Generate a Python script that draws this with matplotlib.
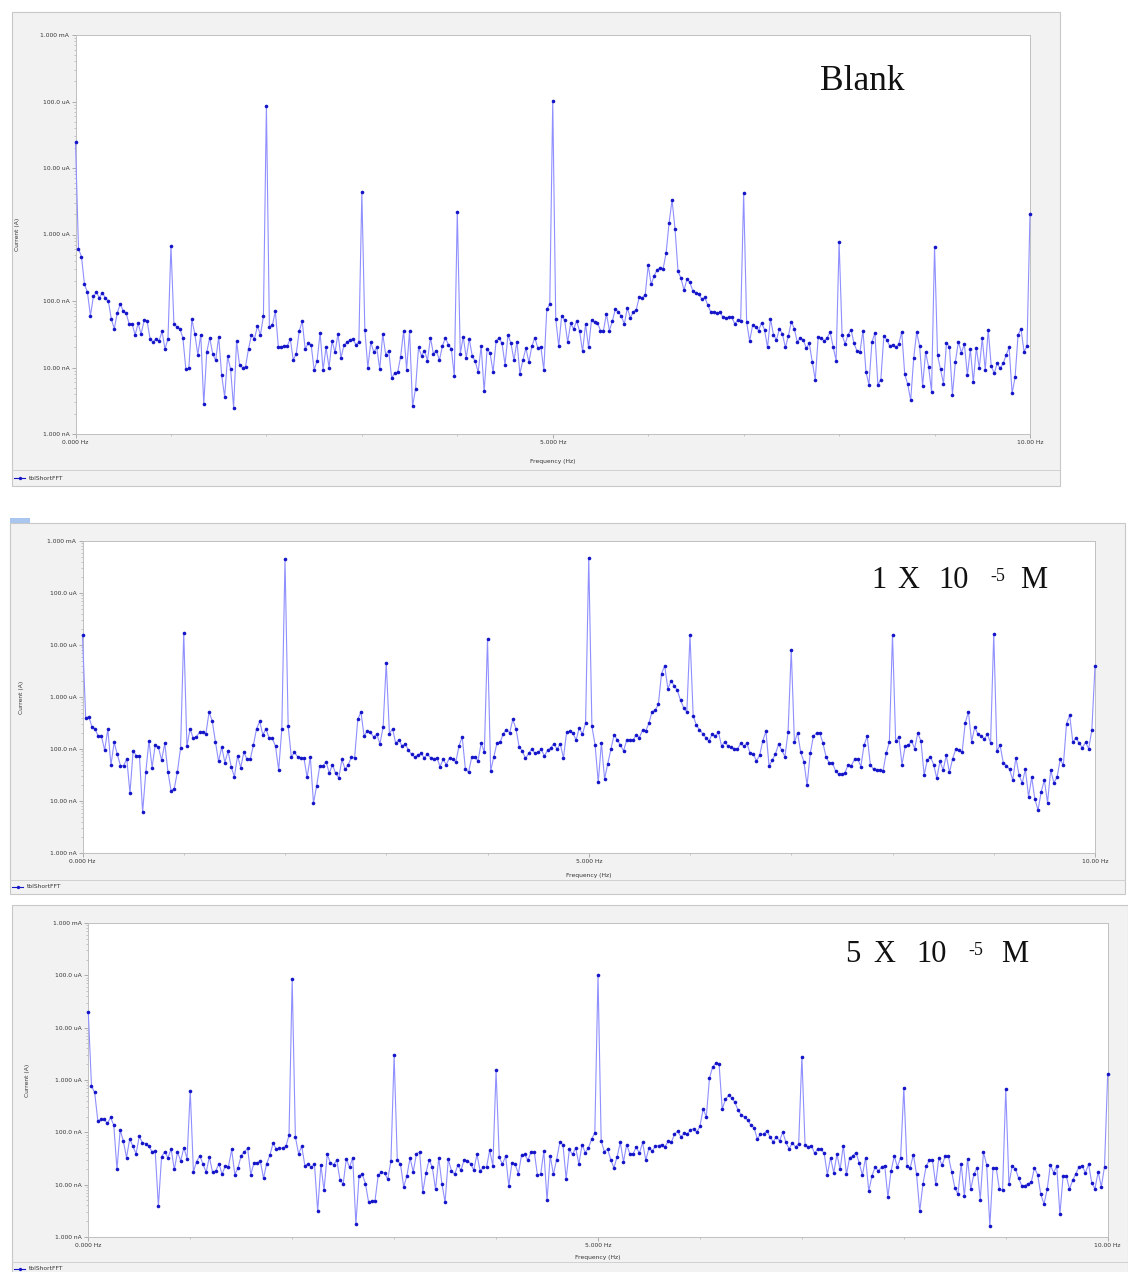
import numpy as np
import matplotlib
matplotlib.use("Agg")
import matplotlib.pyplot as plt
from matplotlib.patches import Rectangle
from matplotlib.lines import Line2D
from matplotlib.ticker import FixedLocator, LogLocator, NullFormatter

# ---------------- data (current in nA, FFT bins 0..10 Hz, 32 bins per Hz) ----------------
blank_nA = [
    24500, 610, 465, 180, 135, 60, 117, 135, 111, 133, 111, 100, 54, 38, 66, 90, 71, 65, 45, 45, 31, 46, 32, 51, 50, 27, 24, 27, 25, 35, 19, 27,
    670, 45, 41, 38, 28, 9.4, 9.7, 53, 32, 15.6, 31, 2.8, 17, 28, 16, 12.8, 29, 7.7, 3.6, 14.7, 9.4, 2.5, 25, 10.8, 10, 10.3, 19, 31, 27, 42, 31, 59,
    87000, 41, 43, 70, 20.6, 20.6, 21, 21, 27, 13, 16, 35, 50, 19, 23, 22, 9.2, 12.7, 33, 9.2, 20, 10, 25, 17, 32, 14, 21.5, 24, 26, 27, 22, 24,
    4300, 37, 10, 24, 17, 20, 9.4, 32, 15.6, 18, 6.9, 8.3, 8.5, 14.5, 36, 9.3, 35, 2.6, 4.8, 20, 15, 18, 12.7, 28, 16, 18, 12.8, 21, 28, 22, 19, 7.4,
    2200, 16, 29, 14, 27, 15, 12.4, 8.5, 21, 4.4, 19, 16.5, 8.5, 25, 28, 23, 11, 31, 23, 12.8, 24.5, 8.1, 13, 19.5, 12, 21, 28, 19.6, 20.5, 9.2, 75, 89,
    102000, 54, 21, 60, 51, 24, 46, 38, 50, 35, 17.5, 45, 20, 52, 48, 47, 36, 36, 64, 36, 50, 76, 68, 59, 45, 79, 56, 68, 74, 115, 111, 125,
    345, 178, 240, 295, 316, 306, 525, 1500, 3300, 1200, 280, 220, 146, 213, 190, 140, 133, 127, 106, 113, 86, 68, 68, 66, 68, 58, 56, 57, 57, 45.5, 51, 50,
    4170, 48, 25, 43, 41, 36, 47, 37, 20, 54, 31, 26, 38, 32, 20, 30, 49, 38, 24, 28, 26, 19.5, 23, 12.3, 6.5, 29, 28, 25, 28, 34, 20.5, 12.7,
    780, 31, 22.5, 31, 37, 23, 17.7, 17.3, 36, 8.7, 5.5, 24, 33, 5.5, 6.6, 30, 26, 21, 22, 20, 22.5, 34.5, 7.9, 5.6, 3.2, 13.7, 34, 21, 5.3, 17, 10.3, 4.3,
    660, 15.4, 9.4, 5.7, 23.6, 20.5, 3.9, 12.3, 24.5, 16.7, 22.5, 7.7, 18.8, 6, 19.8, 9.7, 27.5, 9.2, 37, 10.5, 8.2, 11.5, 9.7, 11.5, 15.4, 20, 4.1, 7.1, 31, 38, 17.3, 21,
    2050,
]

conc1_nA = [
    15500, 400, 415, 266, 240, 174, 174, 95, 240, 49, 134, 79, 48, 48, 65, 14, 92, 74, 74, 6.1, 35.5, 144, 44, 122, 107, 61, 128, 36.5, 15.6, 17.3, 36.5, 105,
    17300, 113, 244, 160, 171, 210, 217, 195, 515, 347, 139, 58, 109, 55, 91, 46, 29, 74, 44, 87, 63, 63, 118, 244, 340, 187, 244, 160, 160, 113, 39.5, 246,
    445000, 275, 71, 86, 71, 68, 66, 28.5, 71, 9.1, 19.5, 48, 47, 57, 34, 50, 34, 28, 63, 40.5, 50, 70, 68, 370, 515, 177, 223, 208, 171, 192, 126, 262,
    4550, 198, 244, 128, 152, 113, 126, 95, 79, 70, 76, 82, 68, 79, 68, 63, 68, 46, 63, 50, 68, 63, 57, 115, 171, 42, 35.5, 69, 69, 59, 131, 86,
    13100, 38, 71, 131, 135, 198, 236, 204, 372, 244, 110, 92, 66, 82, 100, 82, 86, 98, 73, 95, 105, 126, 99, 126, 67, 210, 220, 204, 148, 258, 192, 317,
    465000, 273, 120, 23, 131, 26.5, 52, 98, 187, 152, 118, 92, 148, 148, 148, 187, 166, 230, 220, 314, 515, 555, 725, 2800, 4000, 1440, 2030, 1650, 1340, 865, 625, 510,
    15500, 440, 287, 236, 198, 166, 141, 195, 176, 210, 113, 139, 113, 107, 102, 99, 128, 113, 128, 82, 80, 59, 75, 144, 220, 47, 61, 80, 124, 95, 71, 213,
    8100, 135, 204, 86, 57, 20, 82, 176, 204, 204, 131, 71, 54, 54, 38, 32.5, 32.5, 35, 50, 48, 63, 65, 46, 118, 176, 50, 40.5, 39.5, 39.5, 38, 82, 137,
    15800, 141, 171, 50, 113, 118, 144, 102, 204, 141, 31.6, 61, 71, 50, 27.3, 58, 39.5, 75, 35.5, 65, 100, 95, 86, 322, 515, 139, 265, 192, 178, 155, 192, 131,
    16300, 92, 118, 55, 48, 40.5, 25.3, 68, 31.6, 22, 41, 12.1, 28.5, 10.8, 6.7, 15.1, 25.3, 9.3, 39.5, 22.5, 28.5, 63, 49, 307, 445, 134, 166, 128, 106, 134, 102, 230,
    3900,
]

conc5_nA = [
    19600, 765, 580, 164, 176, 176, 148, 193, 137, 19.7, 110, 68, 33, 75, 54, 39, 84, 63, 61, 54, 43, 44, 3.9, 34, 43, 32.6, 48, 19.5, 42, 28.5, 51, 31.6,
    625, 17.5, 27.7, 36, 24.6, 17.3, 34, 17.3, 18.3, 25.3, 15.8, 22.8, 22.2, 47, 15.6, 21, 36, 42, 50, 15.6, 26, 26, 28, 13.3, 25.3, 36.6, 62, 48, 50, 50, 54, 87,
    85000, 82, 39, 54, 22.8, 25.3, 21.3, 24.6, 3.1, 24, 7.8, 38, 26, 24, 29.4, 12.5, 10.2, 31.6, 21.3, 33, 1.75, 14.9, 15.8, 10.5, 4.6, 4.9, 4.9, 15.1, 17.5, 16.6, 12.7, 28.5,
    2950, 29.4, 24.6, 9.1, 14.7, 32.6, 17.5, 39, 42, 7.2, 16.8, 30, 21.3, 8.1, 32.6, 10.5, 4.6, 31, 18.3, 15.8, 23.5, 18.9, 30, 28.5, 25.3, 18.9, 38, 18.3, 21.3, 21.3, 45.6, 22.8,
    1520, 33.5, 24.6, 35, 9.5, 26.5, 24.6, 16.1, 36.6, 37.8, 29.4, 42, 42, 15.1, 15.8, 44, 5.0, 36, 15.8, 30, 64, 58.5, 12.9, 47, 37.8, 50.5, 24.6, 58.5, 41, 50.5, 74, 98,
    100000, 69, 42.5, 48, 30, 21, 34, 65, 27.3, 58.5, 38.8, 38.8, 52, 40, 64, 29.4, 50, 44, 54, 56, 58.5, 52.6, 67, 64, 91, 106, 82, 95, 92, 110, 118, 100,
    131, 277, 199, 1100, 1780, 2100, 2040, 277, 425, 510, 457, 372, 262, 217, 193, 171, 137, 122, 75, 91, 92, 108, 82, 66, 82, 69, 101, 64, 48, 63, 52.6, 61,
    2800, 57, 52.6, 56, 39.5, 49, 48, 39.5, 15.6, 33, 16.8, 38, 19.5, 56, 15.8, 33, 35.5, 41, 26, 15.1, 33, 7.5, 14.7, 21.9, 18.3, 21.5, 23.2, 5.8, 18.3, 35, 21.9, 33,
    710, 22.9, 21, 37.7, 15.8, 3.1, 10.2, 22.5, 29.4, 29.4, 10.2, 33, 23.5, 35, 35, 17.8, 8.8, 6.6, 25.3, 6.0, 31.6, 8.2, 15.8, 21, 5.2, 41.7, 24.2, 1.6, 21, 21, 8.1, 7.8,
    680, 10.2, 22.5, 20.3, 13.5, 9.6, 9.6, 10.5, 11.1, 21, 15.6, 6.5, 4.3, 8.1, 24.2, 17, 22.5, 2.7, 14.7, 14.7, 8.2, 12.1, 16.3, 21.9, 22.9, 16.8, 24.6, 10.8, 8.4, 17.5, 9.1, 22.2,
    1300,
]

freq_max_hz = 10.0
y_tick_values = [1e-9, 1e-8, 1e-7, 1e-6, 1e-5, 1e-4, 1e-3]
y_tick_labels = ["1.000 nA", "10.00 nA", "100.0 nA", "1.000 uA", "10.00 uA", "100.0 uA", "1.000 mA"]
x_tick_values = [0, 5, 10]
x_tick_labels = ["0.000 Hz", "5.000 Hz", "10.00 Hz"]
x_label = "Frequency (Hz)"
y_label = "Current (A)"
legend_name = "tblShortFFT"

# ---------------- figure ----------------
W, H = 1128, 1272
fig = plt.figure(figsize=(W / 100, H / 100), dpi=100)
fig.patch.set_facecolor("white")


def fx(px):
    return px / W


def fy(py):
    return 1 - py / H


def add_rect(x0, y0, x1, y1, **kw):
    fig.patches.append(Rectangle((fx(x0), fy(y1)), fx(x1) - fx(x0), fy(y0) - fy(y1),
                                 transform=fig.transFigure, **kw))


def add_hline(x0, x1, y, **kw):
    fig.lines.append(Line2D([fx(x0), fx(x1)], [fy(y), fy(y)], transform=fig.transFigure, **kw))


LINE_C = "#8f8fff"
MARK_C = "#1414c8"
SMALL = 4.3
SERIF = "Liberation Serif"

panels = [
    dict(data=blank_nA, outer=(12, 12, 1060, 486), ax=(75.5, 35, 1030, 434),
         sep=470, leg=478, ylab_x=18, xlab_y=461),
    dict(data=conc1_nA, outer=(10, 523, 1125, 894), ax=(82.5, 541, 1095, 853),
         sep=880, leg=887, ylab_x=22, xlab_y=875),
    dict(data=conc5_nA, outer=(12, 905, 1128, 1275), ax=(88.3, 923, 1107.7, 1237),
         sep=1262, leg=1269, ylab_x=28, xlab_y=1258),
]

for p in panels:
    ox0, oy0, ox1, oy1 = p["outer"]
    add_rect(ox0, oy0, ox1, oy1, facecolor="#f2f2f2", edgecolor="#c8c8c8", lw=0.8, zorder=-5)
    add_hline(ox0, ox1, p["sep"], color="#d0d0d0", lw=0.7, zorder=-4)
    ax0, ay0, ax1, ay1 = p["ax"]
    ax = fig.add_axes([fx(ax0), fy(ay1), fx(ax1) - fx(ax0), fy(ay0) - fy(ay1)])
    ax.set_zorder(2)
    ax.set_facecolor("white")
    vals = np.array(p["data"], dtype=float) * 1e-9
    freq = np.linspace(0, freq_max_hz, len(vals))
    ax.plot(freq, vals, color=LINE_C, lw=0.8, marker="o", ms=2.6,
            mfc=MARK_C, mec=MARK_C, mew=0, zorder=3, clip_on=False)
    ax.set_yscale("log")
    ax.set_ylim(1e-9, 1e-3)
    ax.set_xlim(0, freq_max_hz)
    ax.yaxis.set_major_locator(FixedLocator(y_tick_values))
    ax.set_yticklabels(y_tick_labels)
    ax.yaxis.set_minor_locator(LogLocator(base=10, subs=np.arange(2, 10)))
    ax.yaxis.set_minor_formatter(NullFormatter())
    ax.xaxis.set_major_locator(FixedLocator(x_tick_values))
    ax.set_xticklabels(x_tick_labels)
    ax.xaxis.set_minor_locator(FixedLocator(np.arange(0, 11)))
    ax.tick_params(axis="both", which="major", labelsize=SMALL, length=3, width=0.5,
                   color="#909090", labelcolor="#333333", pad=1.5)
    ax.tick_params(axis="both", which="minor", length=1.6, width=0.4, color="#a0a0a0")
    for s in ax.spines.values():
        s.set_color("#c0c0c0")
        s.set_linewidth(0.7)
    # axis titles
    fig.text(fx((ax0 + ax1) / 2), fy(p["xlab_y"]), x_label, ha="center", va="center",
             fontsize=SMALL, color="#333333")
    fig.text(fx(p["ylab_x"]), fy((ay0 + ay1) / 2), y_label, ha="center", va="center",
             rotation=90, fontsize=SMALL, color="#333333")
    # legend entry
    fig.lines.append(Line2D([fx(ox0 + 2), fx(ox0 + 13)], [fy(p["leg"]), fy(p["leg"])],
                            transform=fig.transFigure, color=MARK_C, lw=0.8))
    fig.lines.append(Line2D([fx(ox0 + 7.5)], [fy(p["leg"])], transform=fig.transFigure,
                            marker="o", ms=2.4, color=MARK_C, mew=0))
    fig.text(fx(ox0 + 17), fy(p["leg"]), legend_name, ha="left", va="center",
             fontsize=SMALL, color="#333333")

# small blue marker between panels 1 and 2
add_rect(10, 518, 30, 523, facecolor="#a9c6ef", edgecolor="none", zorder=-5)

# ---------------- annotations ----------------
fig.text(fx(820), fy(90), "Blank", ha="left", va="baseline", fontfamily=SERIF,
         fontsize=25.5, color="#111111", zorder=10)

big = 22
sup = 13
pieces2 = [("1", 871, 588, big), ("X", 897, 588, big), ("10", 938, 588, big),
           ("-5", 990, 581, sup), ("M", 1020, 588, big)]
pieces3 = [("5", 845, 962, big), ("X", 873, 962, big), ("10", 916, 962, big),
           ("-5", 968, 955, sup), ("M", 1001, 962, big)]
for s, x, y, fs in pieces2 + pieces3:
    fig.text(fx(x), fy(y), s, ha="left", va="baseline", fontfamily=SERIF,
             fontsize=fs, color="#111111", zorder=10)

fig.savefig("out.png", dpi=100, facecolor=fig.get_facecolor())
